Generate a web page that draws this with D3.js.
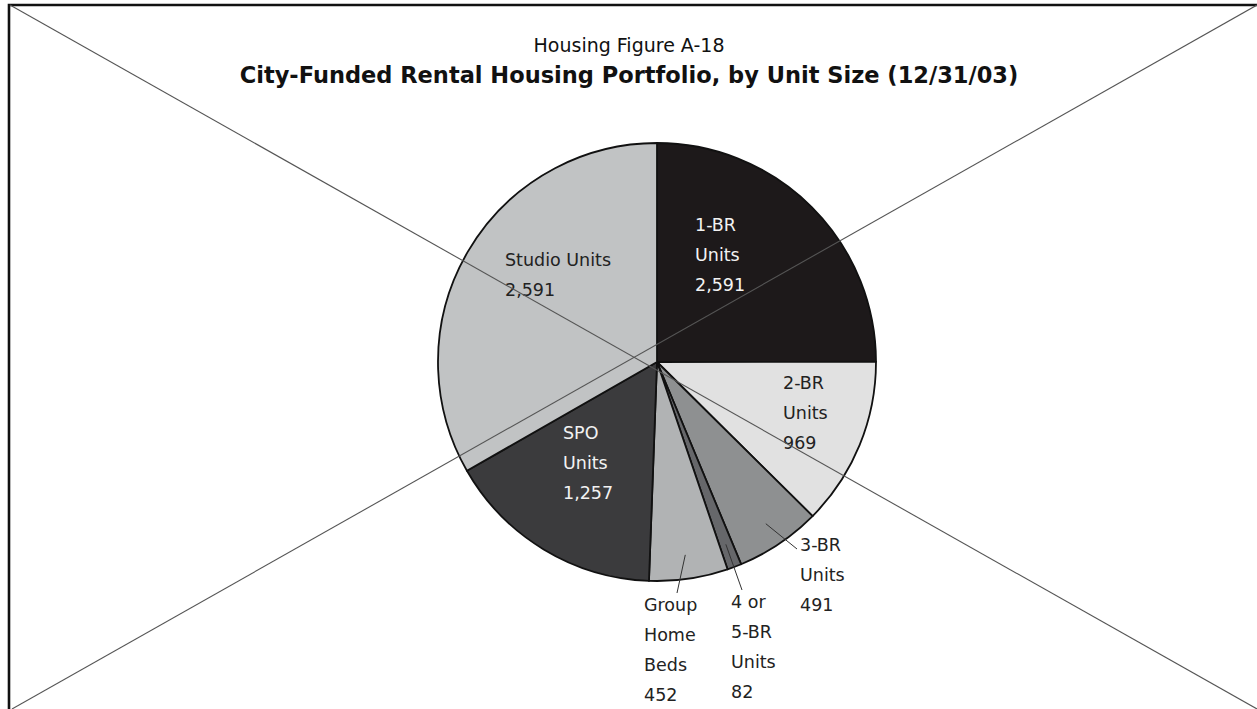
<!DOCTYPE html>
<html>
<head>
<meta charset="utf-8">
<title>Housing Figure A-18</title>
<script src="https://d3js.org/d3.v7.min.js"></script>
<style>
  body { margin: 0; background: #fff; overflow: hidden; }
  svg text { font-family: "DejaVu Sans", Verdana, sans-serif; }
</style>
</head>
<body>
<script>
// slice order, clockwise from 12 o'clock
const categories = ["1-BR Units", "2-BR Units", "3-BR Units", "4 or 5-BR Units", "Group Home Beds", "SPO Units", "Studio Units"];
// printed values
const printedValues = ["2,591", "969", "491", "82", "452", "1,257", "2,591"];
// sizes as drawn (the 1-BR wedge in the source is a quarter circle, ~1,945, not 2,591)
const drawnValues = [1945, 969, 491, 82, 452, 1257, 2591];
// label text, line by line
const labelLines = [
  ["1-BR", "Units", "2,591"],
  ["2-BR", "Units", "969"],
  ["3-BR", "Units", "491"],
  ["4 or", "5-BR", "Units", "82"],
  ["Group", "Home", "Beds", "452"],
  ["SPO", "Units", "1,257"],
  ["Studio Units", "2,591"]
];
const titleTop = "Housing Figure A-18";
const titleMain = "City-Funded Rental Housing Portfolio, by Unit Size (12/31/03)";

// styling / layout
const fills = ["#1d191a", "#e1e1e1", "#8e9091", "#66676a", "#b1b3b4", "#3b3b3d", "#c1c3c4"];
const textFill = ["#f2f2f2", "#222", "#222", "#222", "#222", "#f2f2f2", "#222"];
const hasLeader = [false, false, true, true, true, false, false];
// first-line centre of each label block, relative to pie centre
const labelOffsets = [[38, -137], [126, 21], [143, 183], [74, 240], [-13, 243], [-94, 71], [-152, -102]];

const W = 1257, H = 709;
const cx = 657, cy = 362, R = 219;
const lineH = 30;

const svg = d3.select("body").append("svg")
  .attr("width", W).attr("height", H);

// titles
svg.append("text")
  .attr("x", 629).attr("y", 52)
  .attr("text-anchor", "middle")
  .style("font-size", "19px")
  .style("fill", "#111")
  .text(titleTop);
svg.append("text")
  .attr("x", 629).attr("y", 83)
  .attr("text-anchor", "middle")
  .style("font-size", "22.5px")
  .style("font-weight", "bold")
  .style("fill", "#111")
  .text(titleMain);

const pie = d3.pie().sort(null).value(d => d)
  .startAngle(0).endAngle(2 * Math.PI);
const arcs = pie(drawnValues);
const arc = d3.arc().innerRadius(0).outerRadius(R);

const g = svg.append("g").attr("transform", `translate(${cx},${cy})`);

g.selectAll("path.slice")
  .data(arcs)
  .enter().append("path")
  .attr("class", "slice")
  .attr("d", arc)
  .style("fill", (d, i) => fills[i])
  .style("stroke", "#111")
  .style("stroke-width", 1.8)
  .style("stroke-linejoin", "round");

// leader lines for the small wedges
arcs.forEach((d, i) => {
  if (!hasLeader[i]) return;
  const p0 = d3.arc().innerRadius(R * 0.89).outerRadius(R * 0.89).centroid(d);
  const off = labelOffsets[i];
  // end point just above / beside the label's first line
  const ex = i === 2 ? off[0] - 3 : off[0] + (i === 4 ? 33 : 11);
  const ey = off[1] - (i === 2 ? -4 : 12);
  g.append("line")
    .attr("x1", p0[0]).attr("y1", p0[1])
    .attr("x2", ex).attr("y2", ey)
    .style("stroke", "#333")
    .style("stroke-width", 1);
});

// labels
arcs.forEach((d, i) => {
  const off = labelOffsets[i];
  const t = g.append("text")
    .style("font-size", "17.5px")
    .style("fill", textFill[i]);
  labelLines[i].forEach((ln, k) => {
    t.append("tspan")
      .attr("x", off[0])
      .attr("y", off[1] + k * lineH + 6)
      .text(ln);
  });
});

// frame and crossing diagonals
svg.append("path")
  .attr("d", `M9,${H + 5}V5H${W + 5}`)
  .style("fill", "none")
  .style("stroke", "#111")
  .style("stroke-width", 2.6);
svg.append("line")
  .attr("x1", 10).attr("y1", 5).attr("x2", W).attr("y2", H)
  .style("stroke", "#555").style("stroke-width", 1.1);
svg.append("line")
  .attr("x1", 12).attr("y1", H).attr("x2", W).attr("y2", 5)
  .style("stroke", "#555").style("stroke-width", 1.1);
</script>
</body>
</html>
